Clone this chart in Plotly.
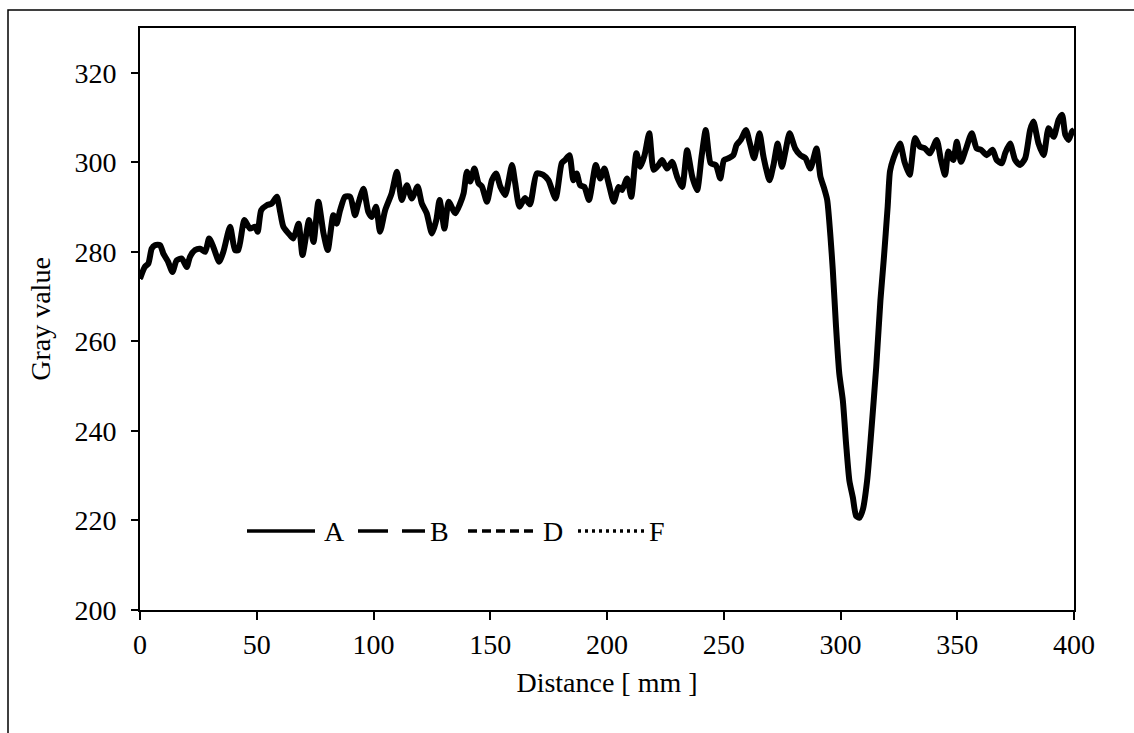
import plotly.graph_objects as go

# Distance [mm] and gray values.
distance = [0, 2, 3.6, 5, 6.4, 8.6, 10, 12, 13.9, 15.7, 17.9, 20, 21.4, 23.6, 25.7, 27.9,
            29.6, 31.4, 33.9, 35.7, 38.6, 40.7, 42.1, 44.7, 47.1, 49.3, 50.4, 51.9, 54.3,
            56.4, 58.6, 60, 61.4, 64.3, 65.7, 67.9, 69.6, 72.4, 74.3, 76.4, 78.6, 80.4,
            82.8, 84.2, 85.7, 87.8, 90, 92.1, 93.5, 95.7, 97.8, 99.3, 101.1, 102.8, 105,
            107.8, 110, 112.1, 114.3, 116.4, 118.9, 120.7, 122.8, 125, 126.9, 128.3, 130.4,
            132.2, 135, 137.1, 138.6, 140, 141.4, 143.2, 145, 146.4, 148.6, 150.7, 152.5,
            154.3, 156.4, 159.3, 160.7, 162.5, 164.9, 167, 169.9, 172.7, 174.9, 178, 180.6,
            182, 183.9, 185.6, 187, 188.5, 190.3, 192.3, 195.2, 197.1, 198.9, 200.7, 202.9,
            205, 206.4, 208.6, 210.4, 212.6, 214.3, 216.1, 218.1, 220, 222.1, 223.6, 225.7,
            227.9, 230, 232.2, 234.3, 236.5, 238.6, 240.5, 242.3, 244.4, 246.6, 248.5, 250.1,
            252, 254.1, 255.5, 257.3, 259.5, 261.2, 263, 265.3, 267, 269.6, 271.3, 273.1,
            274.9, 276.4, 278.2, 280.6, 282.8, 285, 287.1, 289.7, 291.4, 292.8, 294.3, 295.7,
            296.7, 298.1, 299.5, 301, 302.4, 303.8, 305.3, 306.7, 308.1, 309.6, 311.4, 313.1,
            315.3, 317.1, 318.5, 320.2, 321.2, 322.7, 325.5, 327.4, 329.6, 331.9, 334, 336.2,
            338.3, 341.2, 343, 344.8, 346.2, 348.3, 349.8, 351.6, 353.6, 356.2, 358.3, 360.2,
            362.6, 365.1, 366.9, 369.1, 370.5, 372.6, 374.8, 376.9, 379.1, 381.2, 382.6,
            384.8, 387, 389.1, 391.3, 393.4, 394.9, 396.3, 397.7, 399.2, 400]

gray_A = [274.0, 276.6, 277.4, 280.7, 281.5, 281.5, 279.6, 277.8, 275.5, 278.1, 278.5, 276.6,
          278.9, 280.4, 280.7, 280.0, 283.0, 281.1, 277.8, 280.0, 285.6, 280.4, 280.4, 287.1,
          285.2, 285.6, 284.5, 289.3, 290.4, 290.8, 292.3, 289.0, 285.6, 283.7, 283.0, 286.3,
          279.3, 287.1, 282.2, 291.2, 284.1, 280.4, 288.2, 286.3, 289.3, 292.3, 292.3, 288.2,
          290.8, 294.1, 288.9, 287.8, 290.1, 284.5, 289.3, 293.1, 297.9, 291.6, 294.9, 291.9,
          294.6, 290.8, 288.6, 284.1, 287.1, 291.6, 285.2, 291.2, 288.6, 290.8, 293.1, 297.9,
          295.7, 298.6, 295.3, 294.6, 291.2, 296.0, 297.5, 294.6, 292.7, 299.4, 295.3, 290.1,
          292.0, 290.6, 297.5, 297.2, 296.0, 291.9, 299.8, 300.5, 301.6, 296.0, 297.5, 294.9,
          294.5, 291.6, 299.4, 296.4, 298.6, 295.3, 291.2, 294.5, 293.8, 296.4, 292.3, 302.0,
          299.0, 301.6, 306.5, 298.3, 299.4, 300.5, 298.6, 300.1, 296.8, 294.5, 302.7, 296.8,
          293.8, 301.3, 307.2, 299.8, 299.4, 296.4, 300.5, 300.9, 301.6, 303.9, 305.0, 307.2,
          304.2, 300.9, 306.5, 301.3, 296.0, 299.4, 304.2, 299.0, 302.4, 306.5, 303.1, 301.6,
          300.9, 298.6, 303.1, 296.8, 294.5, 291.6, 283.4, 276.0, 263.2, 252.7, 246.8, 237.1,
          228.9, 225.1, 221.0, 220.6, 222.5, 228.9, 239.3, 254.3, 269.2, 278.1, 290.1, 298.0,
          300.9, 304.2, 300.1, 297.2, 305.4, 303.5, 303.1, 302.0, 305.0, 300.5, 297.2, 302.4,
          300.5, 304.6, 300.1, 302.8, 306.5, 303.1, 302.8, 301.6, 302.8, 300.5, 299.8, 302.0,
          304.2, 300.5, 299.4, 300.9, 307.2, 309.1, 304.2, 301.6, 307.6, 305.7, 309.5, 310.6,
          306.1, 305.0, 306.9, 307.2]

# Series B, D and F coincide with A at the resolution of the picture.
gray_B = list(gray_A)
gray_D = list(gray_A)
gray_F = list(gray_A)

series_names = ["A", "B", "D", "F"]
series_values = [gray_A, gray_B, gray_D, gray_F]

x_ticks = [0, 50, 100, 150, 200, 250, 300, 350, 400]
y_ticks = [200, 220, 240, 260, 280, 300, 320]

dash_styles = {"A": "solid", "B": "30px,14px", "D": "9px,5px", "F": "3px,4px"}
widths = {"A": 6, "B": 4, "D": 4, "F": 4}

FONT = "Liberation Serif, Times New Roman, serif"
FS = 28

fig = go.Figure()
for name, vals in reversed(list(zip(series_names, series_values))):
    fig.add_trace(go.Scatter(
        x=distance, y=vals, name=name, mode="lines",
        line=dict(color="black", width=widths[name], dash=dash_styles[name],
                  shape="spline", smoothing=0.6),
        showlegend=False,
    ))

# plot-area pixel geometry
L, R, T, B = 140, 1074, 28, 610
W, H = 1134, 733
pw, ph = R - L, B - T

def px(xp):
    return (xp - L) / pw

def py(yp):
    return (B - yp) / ph

shapes = []
annotations = []
# outer chart border (extends past right/bottom edges as in reference)
shapes.append(dict(type="rect", xref="paper", yref="paper",
                   x0=px(8), x1=px(1140), y0=py(742), y1=py(10),
                   line=dict(color="black", width=1.5), fillcolor="rgba(0,0,0,0)",
                   layer="below"))

# custom legend (long line samples)
leg_y = py(531)
leg_items = [("A", 247, 315, 322), ("B", 358, 425, 428), ("D", 468, 538, 541), ("F", 578, 645, 647)]
for name, x0, x1, xt in leg_items:
    shapes.append(dict(type="line", xref="paper", yref="paper",
                       x0=px(x0), x1=px(x1), y0=leg_y, y1=leg_y,
                       line=dict(color="black", width=3.3, dash=dash_styles[name])))
    annotations.append(dict(xref="paper", yref="paper", x=px(xt), y=leg_y,
                            xanchor="left", yanchor="middle", text=name, showarrow=False,
                            font=dict(family=FONT, size=FS, color="black")))

fig.update_layout(
    width=W, height=H,
    margin=dict(l=L, r=W - R, t=T, b=H - B, pad=0),
    paper_bgcolor="white", plot_bgcolor="white",
    font=dict(family=FONT, size=FS, color="black"),
    showlegend=False,
    shapes=shapes, annotations=annotations,
)
fig.update_xaxes(
    range=[0, 400], tickvals=x_ticks, ticktext=[str(v) for v in x_ticks],
    ticks="outside", ticklen=8, tickwidth=1.5, tickcolor="black",
    showline=True, linecolor="black", linewidth=2, mirror=True,
    showgrid=False, zeroline=False,
    title=dict(text="Distance [ mm ]", standoff=14, font=dict(family=FONT, size=FS)),
    automargin=False,
)
fig.update_yaxes(
    range=[200, 330], tickvals=y_ticks, ticktext=[str(v) for v in y_ticks],
    ticks="outside", ticklen=7, tickwidth=1.5, tickcolor="black",
    showline=True, linecolor="black", linewidth=2, mirror=True,
    showgrid=False, zeroline=False,
    ticklabelstandoff=9,
    title=dict(text="Gray value", standoff=16, font=dict(family=FONT, size=FS)),
    automargin=False,
)

fig.write_html("out.html")
